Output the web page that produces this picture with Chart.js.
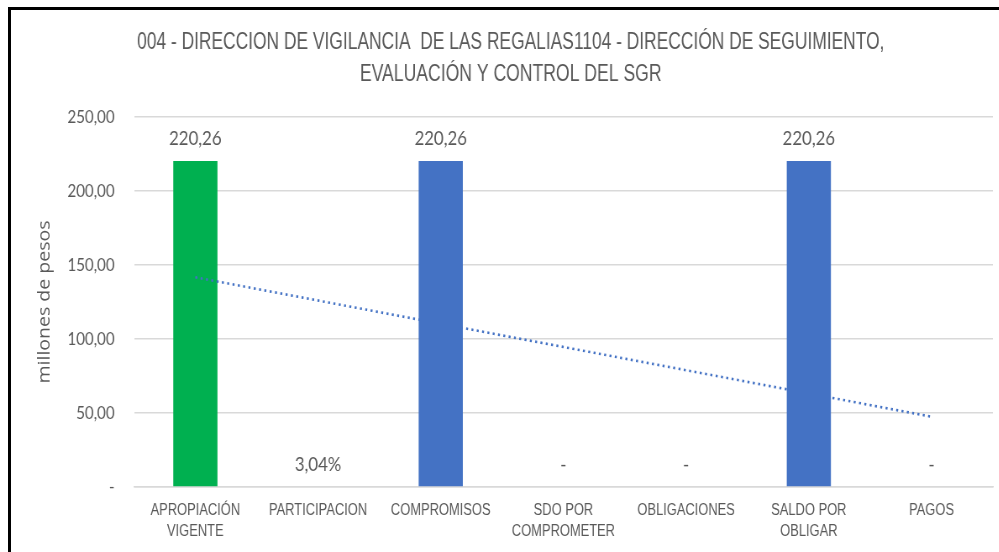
<!DOCTYPE html>
<html>
<head>
<meta charset="utf-8">
<script src="https://cdn.jsdelivr.net/npm/chart.js@4/dist/chart.umd.min.js"></script>
<style>
  html, body { margin: 0; padding: 0; background: #fff; overflow: hidden; }
  #wrap { position: relative; width: 999px; height: 552px; overflow: hidden; }
  .edge { position: absolute; background: #000; }
  #edge-top { left: 8px; top: 7px; width: 991px; height: 3px; }
  #edge-left { left: 8px; top: 7px; width: 3px; height: 545px; }
  /* el grafico original esta comprimido en horizontal */
  #squash { position: absolute; left: 0; top: 0; width: 1189px; height: 552px;
            transform: scaleX(0.84); transform-origin: 0 0; }
  canvas { position: absolute; left: 0; top: 0; }
</style>
</head>
<body>
<div id="wrap">
  <div class="edge" id="edge-top"></div>
  <div class="edge" id="edge-left"></div>
  <div id="squash"><canvas id="chart" width="1189" height="552"></canvas></div>
</div>
<script>
const TITLE = [
  '004 - DIRECCION DE VIGILANCIA  DE LAS REGALIAS1104 - DIRECCIÓN DE SEGUIMIENTO,',
  'EVALUACIÓN Y CONTROL DEL SGR'
]
const CATEGORIES = [
  ['APROPIACIÓN', 'VIGENTE'],
  ['PARTICIPACION'],
  ['COMPROMISOS'],
  ['SDO POR', 'COMPROMETER'],
  ['OBLIGACIONES'],
  ['SALDO POR', 'OBLIGAR'],
  ['PAGOS']
]
// valores en millones de pesos
const APROPIACION = [220.26, null, null, null, null, null, null]
const EJECUCION = [null, 0, 220.26, 0, 0, 220.26, 0]
const VALUE_LABELS = ['220,26', '3,04%', '220,26', '-', '-', '220,26', '-']
// linea de tendencia (extremos)
const TENDENCIA = [141.7, null, null, null, null, null, 47.5]
const Y_TICKS = [0, 50, 100, 150, 200, 250]

const TEXT = '#595959'
const SANS = '"Liberation Sans", Arial, sans-serif'
const BODY = 'Lato, sans-serif'

// texto estrecho tipo Arial Narrow
function narrowText(ctx, txt, x, y, k) {
  ctx.save()
  ctx.translate(x, y)
  ctx.scale(k, 1)
  ctx.fillText(txt, 0, 0)
  ctx.restore()
}

const titlePlugin = {
  id: 'titulo',
  afterDraw(chart) {
    const ctx = chart.ctx
    ctx.save()
    ctx.fillStyle = TEXT
    ctx.font = '23px ' + SANS
    ctx.textAlign = 'center'
    ctx.textBaseline = 'middle'
    narrowText(ctx, TITLE[0], 608, 43, 0.9)
    narrowText(ctx, TITLE[1], 608, 75, 0.91)
    ctx.restore()
  }
}

const labelPlugin = {
  id: 'etiquetas',
  afterDatasetsDraw(chart) {
    const ctx = chart.ctx
    const y = chart.scales.y
    const x = chart.scales.x
    ctx.save()
    ctx.fillStyle = TEXT
    ctx.textAlign = 'center'
    ctx.textBaseline = 'middle'
    ctx.font = '20px ' + BODY
    VALUE_LABELS.forEach((txt, i) => {
      const v = APROPIACION[i] ?? EJECUCION[i] ?? 0
      ctx.fillText(txt, x.getPixelForValue(i), y.getPixelForValue(v) - 22)
    })
    // etiquetas de categoria
    ctx.font = '16px ' + SANS
    CATEGORIES.forEach((lines, i) => {
      lines.forEach((txt, j) => {
        narrowText(ctx, txt, x.getPixelForValue(i), x.top + 24 + j * 21, 0.96)
      })
    })
    ctx.restore()
  }
}

new Chart(document.getElementById('chart'), {
  data: {
    labels: CATEGORIES,
    datasets: [
      {
        type: 'bar',
        data: APROPIACION,
        backgroundColor: '#00B050',
        grouped: false,
        barPercentage: 0.36,
        categoryPercentage: 1,
        order: 3,
      },
      {
        type: 'line',
        data: TENDENCIA,
        borderColor: '#4472C4',
        borderWidth: 2.6,
        borderDash: [2.4, 4],
        pointRadius: 0,
        spanGaps: true,
        order: 2,
      },
      {
        type: 'bar',
        data: EJECUCION,
        backgroundColor: '#4472C4',
        grouped: false,
        barPercentage: 0.36,
        categoryPercentage: 1,
        order: 1,
      },
    ],
  },
  options: {
    responsive: false,
    animation: false,
    layout: { padding: { left: 12, right: 7, top: 117, bottom: 5 } },
    plugins: {
      legend: { display: false },
      title: { display: false },
      tooltip: { enabled: false },
    },
    scales: {
      x: {
        grid: { display: false },
        border: { color: '#D9D9D9', width: 1.5 },
        ticks: { display: false },
        afterFit(scale) { scale.height = 60 },
      },
      y: {
        min: 0,
        max: 250,
        afterBuildTicks(scale) { scale.ticks = Y_TICKS.map(v => ({ value: v })) },
        grid: { color: '#D9D9D9', lineWidth: 1.5, drawTicks: false },
        border: { display: false },
        ticks: {
          color: TEXT,
          font: { family: BODY, size: 18 },
          padding: 23,
          callback: v => v === 0 ? '-' : v.toFixed(2).replace('.', ','),
        },
        title: {
          display: true,
          text: 'millones de pesos',
          color: TEXT,
          font: { family: '"Open Sans", sans-serif', size: 19.5 },
          padding: { top: 30, bottom: 0 },
        },
        afterFit(scale) { scale.width = 147.5 },
      },
    },
  },
  plugins: [titlePlugin, labelPlugin],
})
</script>
</body>
</html>
